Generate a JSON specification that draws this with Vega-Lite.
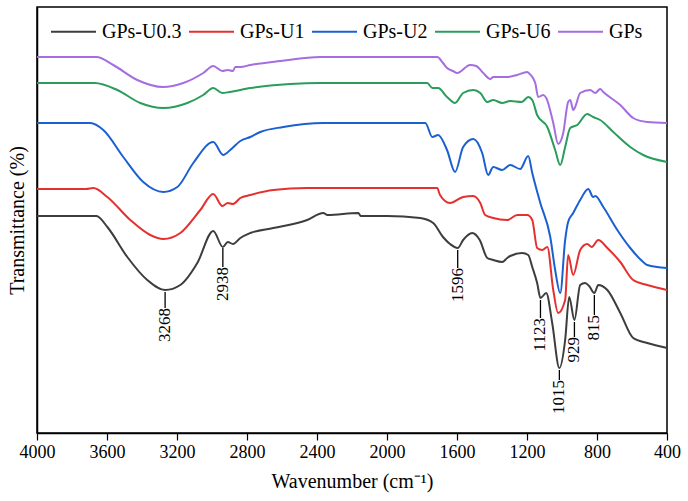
{
  "$schema": "https://vega.github.io/schema/vega-lite/v6.json",
  "width": 630,
  "height": 426,
  "autosize": {"type": "none"},
  "padding": {"left": 37, "top": 7, "right": 21, "bottom": 68},
  "config": {
    "font": "Liberation Serif",
    "view": {"stroke": "#000000", "strokeWidth": 1.5},
    "axis": {"labelFont": "Liberation Serif", "titleFont": "Liberation Serif", "labelColor": "#000", "titleColor": "#000", "titleFontWeight": "normal"},
    "legend": {"labelFont": "Liberation Serif"},
    "text": {"font": "Liberation Serif"}
  },
  "datasets": {
    "spectra": [
      {"s":"GPs","wn":4000,"t":370},{"s":"GPs","wn":3800,"t":370},{"s":"GPs","wn":3660,"t":370},{"s":"GPs","wn":3564,"t":362},{"s":"GPs","wn":3427,"t":347},{"s":"GPs","wn":3280,"t":340},{"s":"GPs","wn":3164,"t":344},{"s":"GPs","wn":3050,"t":354},{"s":"GPs","wn":2993,"t":361},{"s":"GPs","wn":2941,"t":356},{"s":"GPs","wn":2910,"t":357},{"s":"GPs","wn":2880,"t":356},{"s":"GPs","wn":2867,"t":360},{"s":"GPs","wn":2838,"t":360},{"s":"GPs","wn":2781,"t":362},{"s":"GPs","wn":2610,"t":366},{"s":"GPs","wn":2381,"t":370},{"s":"GPs","wn":2000,"t":370},{"s":"GPs","wn":1800,"t":370},{"s":"GPs","wn":1713,"t":370},{"s":"GPs","wn":1680,"t":364},{"s":"GPs","wn":1657,"t":359},{"s":"GPs","wn":1623,"t":356},{"s":"GPs","wn":1599,"t":354},{"s":"GPs","wn":1525,"t":362},{"s":"GPs","wn":1490,"t":361},{"s":"GPs","wn":1450,"t":354},{"s":"GPs","wn":1410,"t":348},{"s":"GPs","wn":1393,"t":350},{"s":"GPs","wn":1313,"t":350},{"s":"GPs","wn":1256,"t":352},{"s":"GPs","wn":1199,"t":355},{"s":"GPs","wn":1190,"t":354},{"s":"GPs","wn":1153,"t":344},{"s":"GPs","wn":1136,"t":330},{"s":"GPs","wn":1107,"t":332},{"s":"GPs","wn":1090,"t":329},{"s":"GPs","wn":1050,"t":304},{"s":"GPs","wn":1022,"t":283},{"s":"GPs","wn":993,"t":294},{"s":"GPs","wn":965,"t":325},{"s":"GPs","wn":953,"t":327},{"s":"GPs","wn":936,"t":317},{"s":"GPs","wn":925,"t":320},{"s":"GPs","wn":896,"t":334},{"s":"GPs","wn":839,"t":337},{"s":"GPs","wn":810,"t":334},{"s":"GPs","wn":782,"t":338},{"s":"GPs","wn":764,"t":335},{"s":"GPs","wn":667,"t":322},{"s":"GPs","wn":593,"t":309},{"s":"GPs","wn":513,"t":305},{"s":"GPs","wn":400,"t":304},
      {"s":"GPs-U6","wn":4000,"t":344},{"s":"GPs-U6","wn":3800,"t":344},{"s":"GPs-U6","wn":3670,"t":344},{"s":"GPs-U6","wn":3541,"t":337},{"s":"GPs-U6","wn":3410,"t":324},{"s":"GPs-U6","wn":3278,"t":319},{"s":"GPs-U6","wn":3141,"t":324},{"s":"GPs-U6","wn":3050,"t":332},{"s":"GPs-U6","wn":2993,"t":339},{"s":"GPs-U6","wn":2941,"t":334},{"s":"GPs-U6","wn":2900,"t":335},{"s":"GPs-U6","wn":2781,"t":339},{"s":"GPs-U6","wn":2553,"t":343},{"s":"GPs-U6","wn":2381,"t":344},{"s":"GPs-U6","wn":2000,"t":344},{"s":"GPs-U6","wn":1770,"t":344},{"s":"GPs-U6","wn":1741,"t":339},{"s":"GPs-U6","wn":1708,"t":339},{"s":"GPs-U6","wn":1657,"t":330},{"s":"GPs-U6","wn":1611,"t":324},{"s":"GPs-U6","wn":1565,"t":334},{"s":"GPs-U6","wn":1507,"t":337},{"s":"GPs-U6","wn":1467,"t":334},{"s":"GPs-U6","wn":1427,"t":325},{"s":"GPs-U6","wn":1393,"t":327},{"s":"GPs-U6","wn":1342,"t":324},{"s":"GPs-U6","wn":1296,"t":326},{"s":"GPs-U6","wn":1230,"t":325},{"s":"GPs-U6","wn":1193,"t":330},{"s":"GPs-U6","wn":1170,"t":327},{"s":"GPs-U6","wn":1142,"t":312},{"s":"GPs-U6","wn":1084,"t":300},{"s":"GPs-U6","wn":1039,"t":277},{"s":"GPs-U6","wn":1010,"t":262},{"s":"GPs-U6","wn":982,"t":280},{"s":"GPs-U6","wn":953,"t":299},{"s":"GPs-U6","wn":913,"t":302},{"s":"GPs-U6","wn":856,"t":313},{"s":"GPs-U6","wn":822,"t":310},{"s":"GPs-U6","wn":782,"t":307},{"s":"GPs-U6","wn":707,"t":295},{"s":"GPs-U6","wn":610,"t":280},{"s":"GPs-U6","wn":536,"t":272},{"s":"GPs-U6","wn":400,"t":265},
      {"s":"GPs-U2","wn":4000,"t":304},{"s":"GPs-U2","wn":3800,"t":304},{"s":"GPs-U2","wn":3695,"t":304},{"s":"GPs-U2","wn":3621,"t":297},{"s":"GPs-U2","wn":3507,"t":270},{"s":"GPs-U2","wn":3393,"t":245},{"s":"GPs-U2","wn":3278,"t":235},{"s":"GPs-U2","wn":3198,"t":240},{"s":"GPs-U2","wn":3107,"t":264},{"s":"GPs-U2","wn":2993,"t":285},{"s":"GPs-U2","wn":2936,"t":272},{"s":"GPs-U2","wn":2896,"t":277},{"s":"GPs-U2","wn":2838,"t":286},{"s":"GPs-U2","wn":2781,"t":290},{"s":"GPs-U2","wn":2724,"t":295},{"s":"GPs-U2","wn":2593,"t":300},{"s":"GPs-U2","wn":2364,"t":304},{"s":"GPs-U2","wn":2000,"t":304},{"s":"GPs-U2","wn":1781,"t":304},{"s":"GPs-U2","wn":1741,"t":290},{"s":"GPs-U2","wn":1708,"t":292},{"s":"GPs-U2","wn":1657,"t":277},{"s":"GPs-U2","wn":1611,"t":255},{"s":"GPs-U2","wn":1565,"t":280},{"s":"GPs-U2","wn":1507,"t":288},{"s":"GPs-U2","wn":1456,"t":274},{"s":"GPs-U2","wn":1422,"t":252},{"s":"GPs-U2","wn":1393,"t":260},{"s":"GPs-U2","wn":1342,"t":257},{"s":"GPs-U2","wn":1296,"t":262},{"s":"GPs-U2","wn":1239,"t":258},{"s":"GPs-U2","wn":1193,"t":271},{"s":"GPs-U2","wn":1170,"t":254},{"s":"GPs-U2","wn":1124,"t":224},{"s":"GPs-U2","wn":1067,"t":190},{"s":"GPs-U2","wn":1039,"t":157},{"s":"GPs-U2","wn":1010,"t":134},{"s":"GPs-U2","wn":982,"t":187},{"s":"GPs-U2","wn":965,"t":205},{"s":"GPs-U2","wn":936,"t":214},{"s":"GPs-U2","wn":896,"t":227},{"s":"GPs-U2","wn":850,"t":238},{"s":"GPs-U2","wn":822,"t":230},{"s":"GPs-U2","wn":810,"t":231},{"s":"GPs-U2","wn":764,"t":220},{"s":"GPs-U2","wn":684,"t":197},{"s":"GPs-U2","wn":610,"t":179},{"s":"GPs-U2","wn":536,"t":165},{"s":"GPs-U2","wn":513,"t":162},{"s":"GPs-U2","wn":400,"t":159},
      {"s":"GPs-U1","wn":4000,"t":238},{"s":"GPs-U1","wn":3800,"t":238},{"s":"GPs-U1","wn":3720,"t":238},{"s":"GPs-U1","wn":3678,"t":239},{"s":"GPs-U1","wn":3598,"t":230},{"s":"GPs-U1","wn":3467,"t":207},{"s":"GPs-U1","wn":3353,"t":192},{"s":"GPs-U1","wn":3278,"t":188},{"s":"GPs-U1","wn":3181,"t":194},{"s":"GPs-U1","wn":3067,"t":217},{"s":"GPs-U1","wn":2993,"t":233},{"s":"GPs-U1","wn":2941,"t":221},{"s":"GPs-U1","wn":2910,"t":224},{"s":"GPs-U1","wn":2880,"t":223},{"s":"GPs-U1","wn":2838,"t":229},{"s":"GPs-U1","wn":2781,"t":232},{"s":"GPs-U1","wn":2650,"t":237},{"s":"GPs-U1","wn":2456,"t":239},{"s":"GPs-U1","wn":2000,"t":239},{"s":"GPs-U1","wn":1713,"t":239},{"s":"GPs-U1","wn":1697,"t":232},{"s":"GPs-U1","wn":1640,"t":224},{"s":"GPs-U1","wn":1565,"t":230},{"s":"GPs-U1","wn":1507,"t":231},{"s":"GPs-U1","wn":1467,"t":224},{"s":"GPs-U1","wn":1439,"t":212},{"s":"GPs-U1","wn":1393,"t":209},{"s":"GPs-U1","wn":1313,"t":207},{"s":"GPs-U1","wn":1256,"t":212},{"s":"GPs-U1","wn":1199,"t":212},{"s":"GPs-U1","wn":1170,"t":207},{"s":"GPs-U1","wn":1142,"t":179},{"s":"GPs-U1","wn":1113,"t":177},{"s":"GPs-U1","wn":1084,"t":180},{"s":"GPs-U1","wn":1050,"t":137},{"s":"GPs-U1","wn":1022,"t":114},{"s":"GPs-U1","wn":982,"t":127},{"s":"GPs-U1","wn":965,"t":172},{"s":"GPs-U1","wn":936,"t":152},{"s":"GPs-U1","wn":896,"t":177},{"s":"GPs-U1","wn":856,"t":183},{"s":"GPs-U1","wn":830,"t":180},{"s":"GPs-U1","wn":793,"t":187},{"s":"GPs-U1","wn":741,"t":179},{"s":"GPs-U1","wn":667,"t":165},{"s":"GPs-U1","wn":593,"t":147},{"s":"GPs-U1","wn":513,"t":142},{"s":"GPs-U1","wn":400,"t":137},
      {"s":"GPs-U0.3","wn":4000,"t":211},{"s":"GPs-U0.3","wn":3800,"t":211},{"s":"GPs-U0.3","wn":3660,"t":211},{"s":"GPs-U0.3","wn":3598,"t":200},{"s":"GPs-U0.3","wn":3484,"t":170},{"s":"GPs-U0.3","wn":3370,"t":147},{"s":"GPs-U0.3","wn":3268,"t":137},{"s":"GPs-U0.3","wn":3181,"t":142},{"s":"GPs-U0.3","wn":3084,"t":164},{"s":"GPs-U0.3","wn":2993,"t":196},{"s":"GPs-U0.3","wn":2938,"t":180},{"s":"GPs-U0.3","wn":2910,"t":185},{"s":"GPs-U0.3","wn":2880,"t":183},{"s":"GPs-U0.3","wn":2838,"t":189},{"s":"GPs-U0.3","wn":2781,"t":194},{"s":"GPs-U0.3","wn":2650,"t":199},{"s":"GPs-U0.3","wn":2456,"t":207},{"s":"GPs-U0.3","wn":2364,"t":214},{"s":"GPs-U0.3","wn":2340,"t":212},{"s":"GPs-U0.3","wn":2164,"t":214},{"s":"GPs-U0.3","wn":2150,"t":211},{"s":"GPs-U0.3","wn":2000,"t":211},{"s":"GPs-U0.3","wn":1810,"t":209},{"s":"GPs-U0.3","wn":1736,"t":204},{"s":"GPs-U0.3","wn":1680,"t":190},{"s":"GPs-U0.3","wn":1640,"t":183},{"s":"GPs-U0.3","wn":1596,"t":179},{"s":"GPs-U0.3","wn":1565,"t":187},{"s":"GPs-U0.3","wn":1513,"t":194},{"s":"GPs-U0.3","wn":1470,"t":187},{"s":"GPs-U0.3","wn":1427,"t":169},{"s":"GPs-U0.3","wn":1393,"t":167},{"s":"GPs-U0.3","wn":1342,"t":165},{"s":"GPs-U0.3","wn":1313,"t":169},{"s":"GPs-U0.3","wn":1296,"t":171},{"s":"GPs-U0.3","wn":1227,"t":174},{"s":"GPs-U0.3","wn":1193,"t":172},{"s":"GPs-U0.3","wn":1170,"t":160},{"s":"GPs-U0.3","wn":1142,"t":144},{"s":"GPs-U0.3","wn":1123,"t":129},{"s":"GPs-U0.3","wn":1090,"t":134},{"s":"GPs-U0.3","wn":1056,"t":104},{"s":"GPs-U0.3","wn":1015,"t":59},{"s":"GPs-U0.3","wn":982,"t":87},{"s":"GPs-U0.3","wn":959,"t":130},{"s":"GPs-U0.3","wn":929,"t":107},{"s":"GPs-U0.3","wn":896,"t":142},{"s":"GPs-U0.3","wn":868,"t":144},{"s":"GPs-U0.3","wn":845,"t":141},{"s":"GPs-U0.3","wn":815,"t":134},{"s":"GPs-U0.3","wn":793,"t":142},{"s":"GPs-U0.3","wn":741,"t":137},{"s":"GPs-U0.3","wn":667,"t":114},{"s":"GPs-U0.3","wn":593,"t":89},{"s":"GPs-U0.3","wn":513,"t":84},{"s":"GPs-U0.3","wn":400,"t":79}
    ],
    "peaks": [
      {"wn":3268,"top":135,"bottom":119,"label":"3268"},
      {"wn":2938,"top":179,"bottom":160,"label":"2938"},
      {"wn":1596,"top":177,"bottom":159,"label":"1596"},
      {"wn":1123,"top":127,"bottom":109,"label":"1123"},
      {"wn":1015,"top":57,"bottom":47,"label":"1015"},
      {"wn":929,"top":105,"bottom":90,"label":"929"},
      {"wn":815,"top":132,"bottom":112,"label":"815"}
    ]
  },
  "layer": [
    {
      "data": {"name": "spectra"},
      "mark": {"type": "line", "strokeWidth": 2, "interpolate": "monotone"},
      "encoding": {
        "x": {
          "field": "wn", "type": "quantitative",
          "scale": {"domain": [400, 4000], "reverse": true, "nice": false, "zero": false},
          "axis": {
            "title": "Wavenumber (cm⁻¹)",
            "values": [4000,3800,3600,3400,3200,3000,2800,2600,2400,2200,2000,1800,1600,1400,1200,1000,800,600,400],
            "format": "d",
            "labelExpr": "datum.value % 400 === 0 ? datum.label : ''",
            "labelFontSize": 18,
            "labelFont": "Liberation Serif",
            "titleFont": "Liberation Serif",
            "titleFontSize": 20,
            "grid": false,
            "domainColor": "#000", "domainWidth": 1.5,
            "tickColor": "#000", "tickWidth": 1.2,
            "tickSize": {"condition": {"test": "datum.value % 400 === 0", "value": 7}, "value": 4},
            "labelPadding": 3,
            "titlePadding": 10,
            "labelFlush": false,
            "labelOverlap": false
          }
        },
        "y": {
          "field": "t", "type": "quantitative",
          "scale": {"domain": [-6, 420], "nice": false, "zero": false},
          "axis": {
            "title": "Transmittance (%)",
            "titleFont": "Liberation Serif",
            "titleFontSize": 20,
            "labels": false, "ticks": false, "grid": false,
            "domainColor": "#000", "domainWidth": 1.5,
            "titlePadding": 10
          }
        },
        "color": {
          "field": "s", "type": "nominal",
          "scale": {"domain": ["GPs-U0.3","GPs-U1","GPs-U2","GPs-U6","GPs"], "range": ["#3d3d3d","#e4312f","#1b60d1","#2a9d5c","#a66de0"]},
          "legend": {
            "title": null, "orient": "none", "direction": "horizontal",
            "legendX": 13, "legendY": 1,
            "symbolType": "stroke", "symbolSize": 2025, "symbolStrokeWidth": 2,
            "labelFont": "Liberation Serif",
            "labelFontSize": 20, "labelColor": "#000", "labelOffset": 5,
            "columnPadding": 3, "padding": 0, "labelLimit": 200
          }
        }
      }
    },
    {
      "data": {"name": "peaks"},
      "mark": {"type": "rule", "color": "#000", "strokeWidth": 1.3},
      "encoding": {
        "x": {"field": "wn", "type": "quantitative"},
        "y": {"field": "top", "type": "quantitative"},
        "y2": {"field": "bottom"}
      }
    },
    {
      "data": {"name": "peaks"},
      "mark": {"type": "text", "angle": 270, "align": "right", "baseline": "middle", "fontSize": 17, "font": "Liberation Serif", "color": "#000"},
      "encoding": {
        "x": {"field": "wn", "type": "quantitative"},
        "y": {"field": "bottom", "type": "quantitative"},
        "text": {"field": "label"}
      }
    }
  ]
}
